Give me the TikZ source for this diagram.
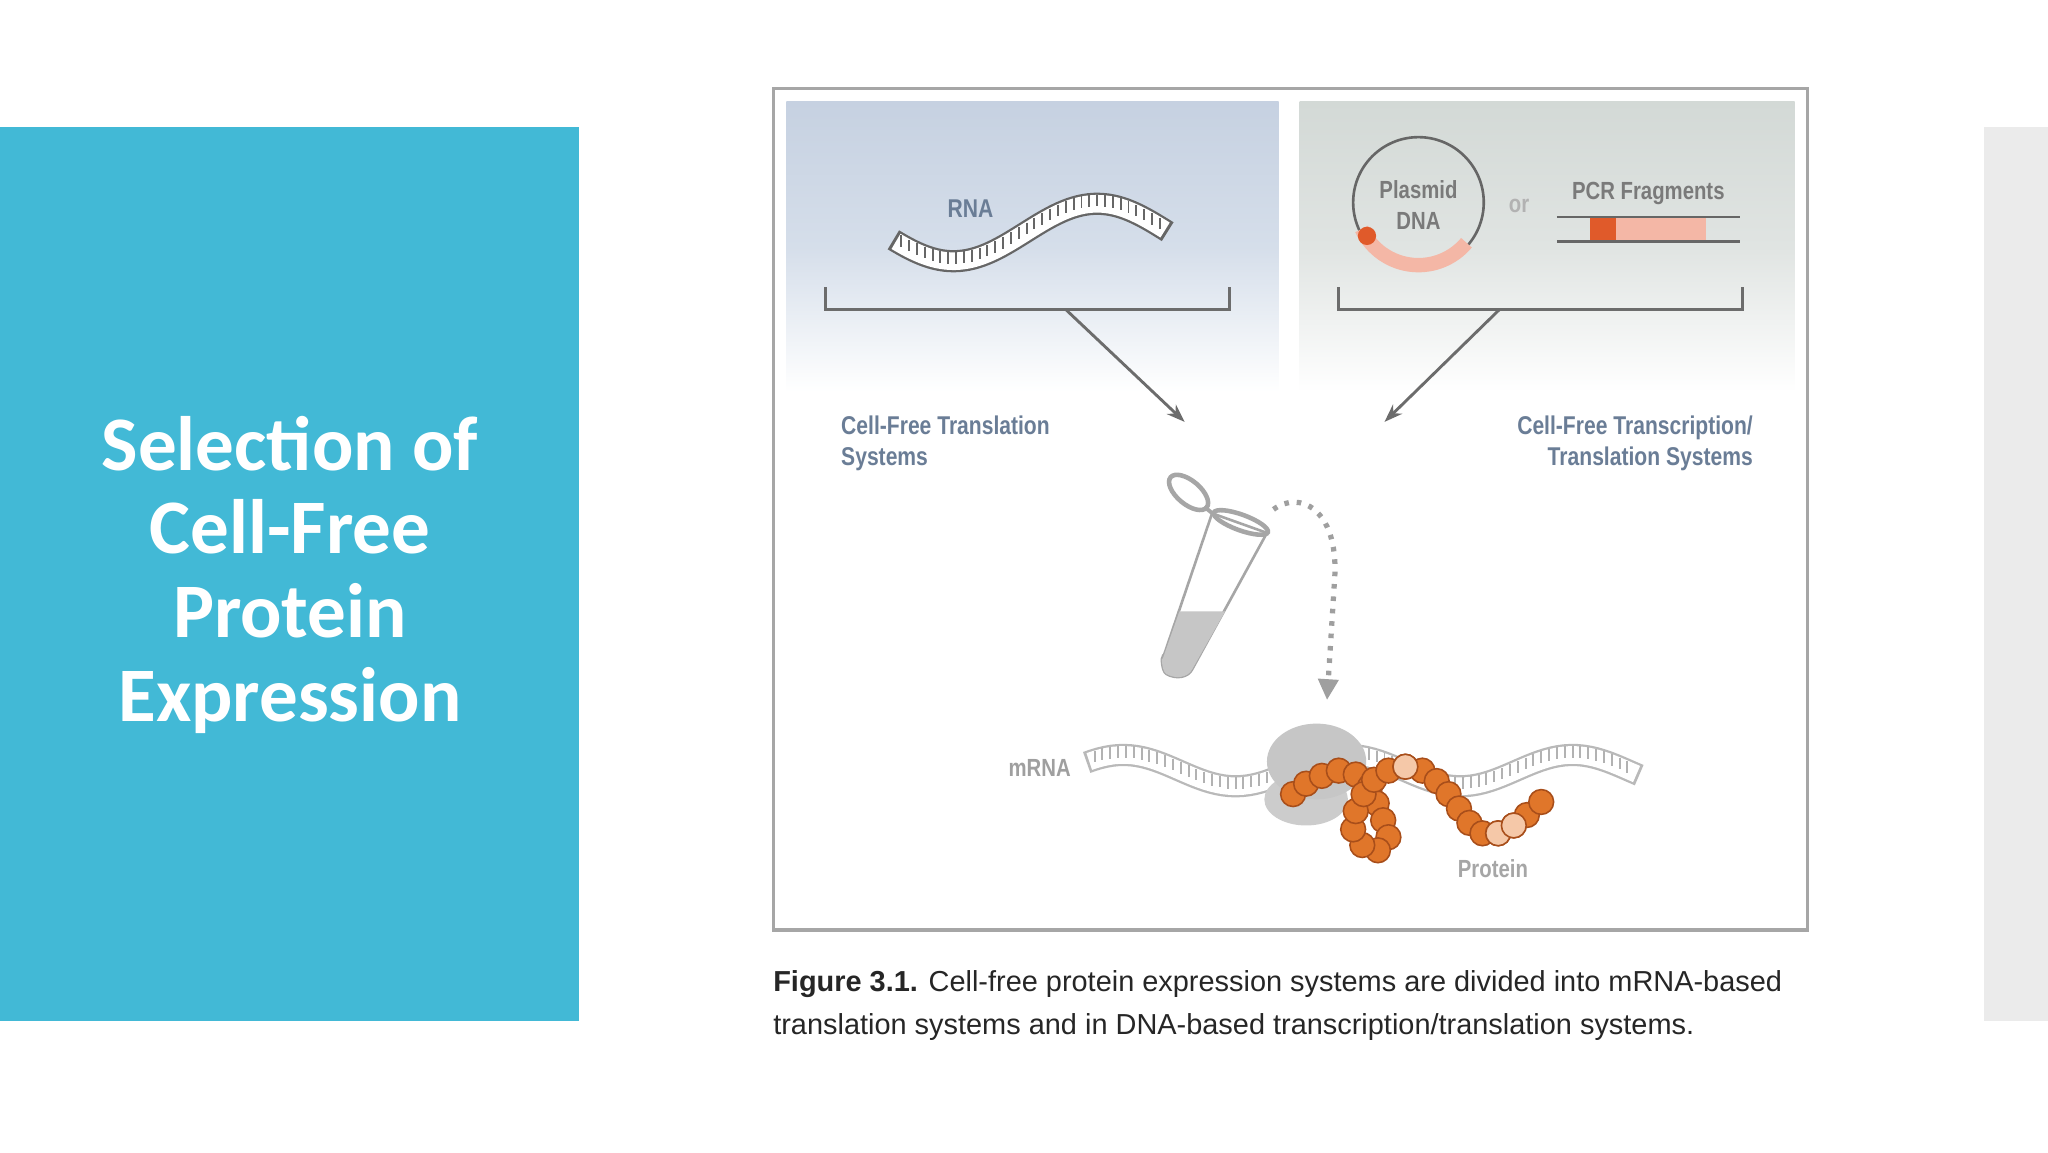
\documentclass[tikz,border=0pt]{standalone}
\usepackage{fontspec}
\setmainfont{Liberation Sans}
\newfontfamily\titlefont{Carlito}
\newfontfamily\narrowfont[FakeStretch=0.82]{Liberation Sans}
\usetikzlibrary{arrows.meta}
\definecolor{teal}{HTML}{42B9D6}
\definecolor{strip}{HTML}{EBEBEB}
\definecolor{lblue}{HTML}{6A7D96}
\definecolor{gtext}{HTML}{7A7A7A}
\definecolor{orng}{HTML}{E0762A}
\definecolor{orngd}{HTML}{A84E1A}
\definecolor{pale}{HTML}{F5C8A8}
\definecolor{pink}{HTML}{F4B7A6}
\definecolor{redd}{HTML}{E05A2A}
\definecolor{lpan}{HTML}{C6D1E1}
\definecolor{lpanm}{HTML}{D5DEEA}
\definecolor{rpan}{HTML}{D3D9D6}
\definecolor{rpanm}{HTML}{E0E4E2}
\tikzset{
 x=0.1cm,y=-0.1cm,
 declare function={rna(\t)=178+22*cos((\t-730)/220*360); mrna(\t)=590-12*cos((\t-860)/172*360);},
 lab/.style={font=\narrowfont\fontsize{56}{68}\selectfont\bfseries,text=lblue,inner sep=0},
 glab/.style={font=\narrowfont\fontsize{54}{68}\selectfont\bfseries,text=gtext,inner sep=0},
 brk/.style={draw=gray!85!black,line width=0.22cm},
 arr/.style={draw=gray!85!black,line width=0.22cm,-{Stealth[length=1.4cm,width=1cm]}},
 bead/.style={circle,draw=orngd,fill=orng,line width=0.12cm,minimum size=1.9cm,inner sep=0},
 pbead/.style={bead,fill=pale},
}
\begin{document}
\begin{tikzpicture}
\useasboundingbox (0,0) rectangle (1568,882);
\fill[white] (0,0) rectangle (1568,882);
% left teal box
\fill[teal] (0,97) rectangle (443,782);
\node[font=\titlefont\fontsize{168}{182}\selectfont\bfseries,text=white,align=center,inner sep=0] (title) at (222,440)
 {Selection of\\Cell-Free\\Protein\\Expression};
\fill[strip] (1519,97) rectangle (1568,782);
% figure frame
\draw[gray!70,line width=0.25cm,fill=white] (592,68) rectangle (1384,712);
\shade[top color=lpan,bottom color=white,middle color=lpanm] (602,78) rectangle (979,300);
\shade[top color=rpan,bottom color=white,middle color=rpanm] (995,78) rectangle (1374,300);
% RNA
\draw[gray!80!black,line width=1.7cm,line cap=butt] plot[domain=684:894,samples=60] (\x,{rna(\x)});
\draw[white,line width=1.35cm,line cap=butt] plot[domain=686:892,samples=60] (\x,{rna(\x)});
\foreach \t in {690,696,...,888}{\draw[gray!80!black,line width=0.15cm] (\t,{rna(\t)-7}) -- (\t,{rna(\t)+2});}
\node[lab] (rna) at (743,160) {RNA};
% left bracket
\coordinate (l1) at (632,220); \coordinate (l2) at (632,237); \coordinate (l3) at (941,237); \coordinate (l4) at (941,220);
\draw[brk] (l1) -- (l2) -- (l3) -- (l4);
\coordinate (la) at (816,237); \coordinate (lb) at (907,323);
\draw[arr] (la) -- (lb);
% plasmid
\node[circle,draw=gray!80!black,line width=0.2cm,minimum size=10cm,inner sep=0] (plasmid) at (1086,155) {};
\draw[pink,line width=1.1cm] (1086,155) ++(155:48) arc[start angle=155,end angle=40,radius=48];
\fill[redd] (1086,155) ++(147:47) circle (7);
\node[glab,align=center] (pdna) at (1086,157) {Plasmid\\DNA};
\node[glab,text=gray!60] (or) at (1163,158) {or};
\node[glab] (pcr) at (1262,148) {PCR Fragments};
\fill[pink] (1237,167) rectangle (1306,184);
\fill[redd] (1217,167) rectangle (1237,184);
\draw[gray!80!black,line width=0.2cm] (1192,166) -- (1332,166) (1192,185) -- (1332,185);
% right bracket
\coordinate (r1) at (1025,220); \coordinate (r2) at (1025,237); \coordinate (r3) at (1334,237); \coordinate (r4) at (1334,220);
\draw[brk] (r1) -- (r2) -- (r3) -- (r4);
\coordinate (ra) at (1148,237); \coordinate (rb) at (1060,323);
\draw[arr] (ra) -- (rb);
% labels
\node[lab,anchor=north west,align=left] (cft) at (644,318) {Cell-Free Translation\\Systems};
\node[lab,anchor=north east,align=right] (cftt) at (1342,318) {Cell-Free Transcription/\\Translation Systems};
% tube
\draw[gray!70,line width=0.2cm,fill=white] (928,393) -- (970,408) -- (913,512) to[out=245,in=330] (893,516) to[out=150,in=100] (890,505) -- cycle;
\fill[gray!45] (903,468) -- (938,468) -- (913,512) to[out=245,in=330] (893,516) to[out=150,in=100] (890,505) -- cycle;
\draw[gray!70,line width=0.35cm] (950,400) ellipse[x radius=22,y radius=6,rotate=-20];
\draw[gray!70,line width=0.35cm,fill=white] (910,377) ellipse[x radius=18,y radius=9,rotate=-40];
\draw[gray!70,line width=0.3cm] (922,388) -- (932,396);
% dotted arrow
\coordinate (da) at (975,390); \coordinate (db) at (1016,536);
\draw[gray!75,line width=0.4cm,dash pattern=on 0.35cm off 0.6cm,-{Triangle[length=1.6cm,width=1.5cm]}] (da) .. controls (995,375) and (1024,390) .. (1022,440) -- (db);
% mRNA
\draw[gray!55,line width=1.7cm,line cap=butt] plot[domain=832:1255,samples=90] (\x,{mrna(\x)});
\draw[white,line width=1.35cm,line cap=butt] plot[domain=834:1253,samples=90] (\x,{mrna(\x)});
\foreach \t in {838,844,...,1250}{\draw[gray!60,line width=0.15cm] (\t,{mrna(\t)-7}) -- (\t,{mrna(\t)+2});}
\node[glab,text=gray!75] (mrna) at (796,588) {mRNA};
% ribosome
\fill[gray!40] (1000,612) ellipse[x radius=32,y radius=20];
\fill[gray!45] (1008,583) ellipse[x radius=38,y radius=29];
% protein
\foreach \p [count=\i] in {(990,608),(1000,600),(1012,594),(1025,590),(1038,593),(1049,602),(1054,615),(1059,628),(1063,641),(1055,651),(1043,647),(1036,635),(1038,621),(1044,608),(1052,597),(1063,590),(1076,587),(1089,590),(1100,598),(1109,608),(1117,619),(1125,630),(1135,638),(1147,638),(1159,632),(1169,624),(1180,614)}
 {\node[bead] (b\i) at \p {};}
\foreach \i in {17,24,25}{\node[pbead] at (b\i) {};}
\node[glab,text=gray!70] (protein) at (1143,665) {Protein};
% caption
\node[anchor=west,inner sep=0,font=\fontsize{63}{94}\selectfont,text=gray!30!black,align=left] (cap) at (592,770)
 {\textbf{Figure 3.1.} Cell-free protein expression systems are divided into mRNA-based\\translation systems and in DNA-based transcription/translation systems.};
\end{tikzpicture}
\end{document}
